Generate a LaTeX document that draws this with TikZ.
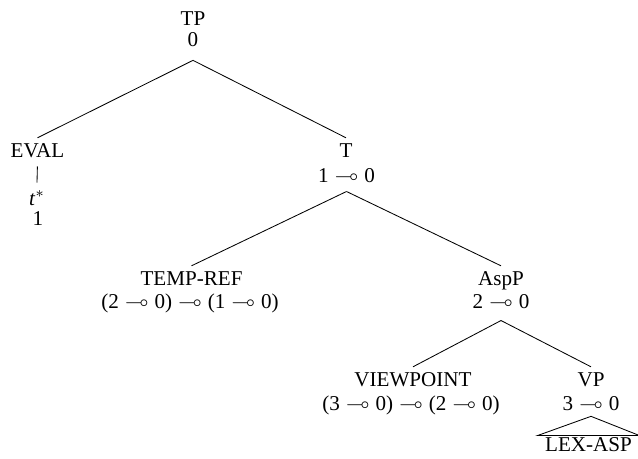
\documentclass[tikz,border=0pt]{standalone}
\usepackage{amssymb}
\usepackage{fontspec}
\setmainfont{Liberation Serif}
\newcommand{\lolli}{~\kern0.4pt$\multimap$\kern0.4pt~}
\begin{document}
\begin{tikzpicture}[x=0.474pt,y=-0.474pt,
  lab/.style={anchor=base, inner xsep=0pt, inner ysep=2.3pt, text height=6.6pt, text depth=0pt},
  sem/.style={anchor=base, inner xsep=0pt, inner ysep=0pt, text height=6.6pt, text depth=#1},
  sem/.default=5pt,
  roofnode/.style={anchor=base, inner xsep=3.3pt, inner ysep=0.8pt, text height=6.6pt, text depth=0pt}]
\path[use as bounding box] (0,0) rectangle (638,458);
% nodes
\node[lab] (TP) at (193,25) {TP};
\node[sem=6.6pt] (TPs) at (193,46) {0};
\node[lab] (EVAL) at (37.5,157) {EVAL};
\node[anchor=base, inner sep=0pt, text height=10.4pt] (tstar) at (37,205) {\textit{t}$^*$};
\node[sem] (EVALs) at (38,225) {1};
\node[lab] (T) at (346,157) {T};
\node[sem=4.3pt] (Ts) at (346.5,182) {1\lolli 0};
\node[lab] (TR) at (191.5,285) {TEMP-REF};
\node[sem] (TRs) at (190,308) {(2\lolli 0)\lolli(1\lolli 0)};
\node[lab] (AspP) at (501,285) {AspP};
\node[sem=5.5pt] (AspPs) at (501,308.5) {2\lolli 0};
\node[lab] (VPT) at (413,386) {VIEWPOINT};
\node[sem] (VPTs) at (411,410) {(3\lolli 0)\lolli(2\lolli 0)};
\node[lab] (VP) at (591,386) {VP};
\node[sem=2.8pt] (VPs) at (591,410) {3\lolli 0};
\node[roofnode] (LEX) at (588.5,451.5) {LEX-ASP};
% connectors
\draw (TPs.south) -- (EVAL.north);
\draw (TPs.south) -- (T.north);
\draw[shorten <=2pt] (EVAL.south) -- (tstar.north);
\draw (Ts.south) -- (TR.north);
\draw (Ts.south) -- (AspP.north);
\draw (AspPs.south) -- (VPT.north);
\draw (AspPs.south) -- (VP.north);
\draw (VPs.south) -- (LEX.north west) -- (LEX.north east) -- cycle;
\end{tikzpicture}
\end{document}
